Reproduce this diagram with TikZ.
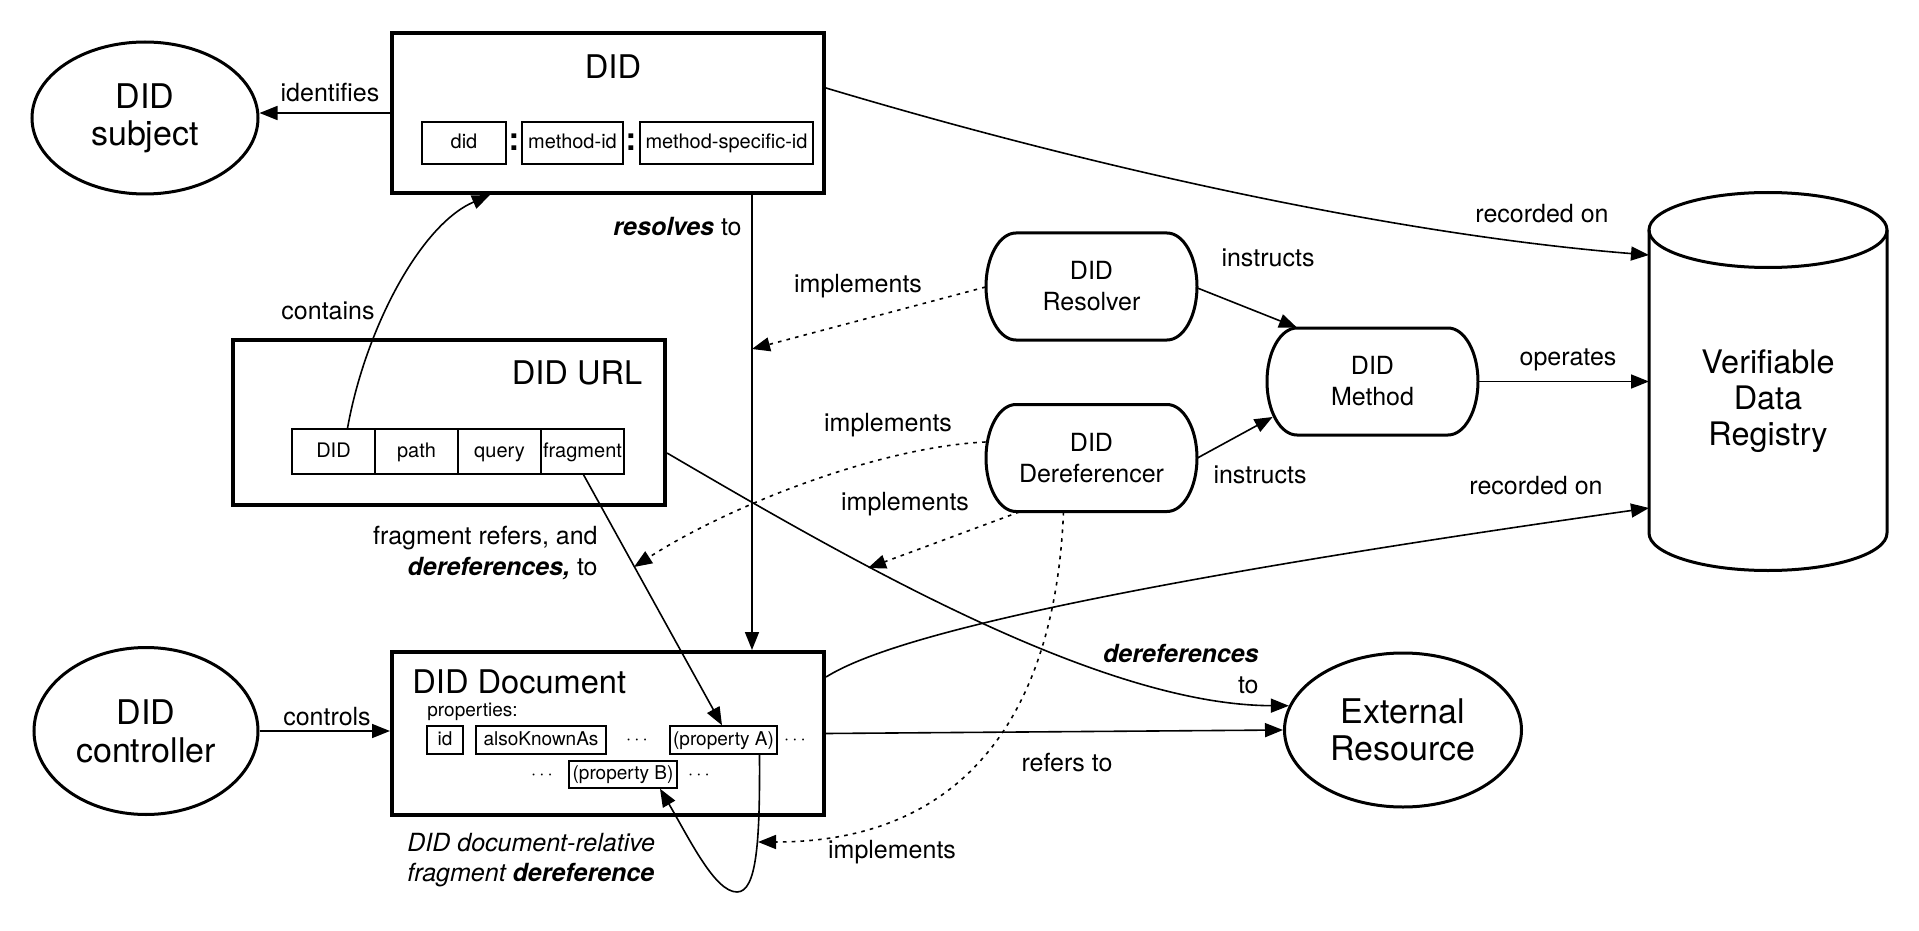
\documentclass[tikz,border=0pt]{standalone}
\usepackage{fontspec}
\setmainfont{TeX Gyre Heros}
\usetikzlibrary{shapes.geometric,arrows.meta,calc}
\newcommand\fs[2]{\fontsize{#1}{#2}\selectfont}
\newcommand\pillout[1]{\draw[pillline,shift={(#1.center)}] (-75.5,-53.5) -- (75.5,-53.5) .. controls (92.1,-53.5) and (105.5,-29.5) .. (105.5,0) .. controls (105.5,29.5) and (92.1,53.5) .. (75.5,53.5) -- (-75.5,53.5) .. controls (-92.1,53.5) and (-105.5,29.5) .. (-105.5,0) .. controls (-105.5,-29.5) and (-92.1,-53.5) .. (-75.5,-53.5) -- cycle;}
\begin{document}
\begin{tikzpicture}[x=0.5pt,y=-0.5pt,
  bigbox/.style={draw,line width=2pt,inner sep=0pt},
  part/.style={draw,line width=0.7pt,inner sep=0pt,font=\fs{10}{12},text height=7.5pt,text depth=2pt},
  prop/.style={draw,line width=0.7pt,inner sep=0pt,font=\fs{9.5}{11},text height=7pt,text depth=2pt},
  ell/.style={ellipse,draw,line width=1.5pt,inner sep=0pt,align=center,font=\fs{17}{18.5}},
  pilltext/.style={inner sep=0pt,minimum width=105.5pt,minimum height=53.5pt,align=center,font=\fs{12.5}{15.5}},
  pillline/.style={line width=1.5pt},
  title/.style={inner sep=0pt,font=\fs{16.3}{18}},
  lbl/.style={inner sep=0pt,font=\fs{12.5}{15.5}},
  dots/.style={inner sep=0pt,font=\fs{9.5}{11}},
  colon/.style={inner sep=0pt,font=\fs{16}{16}\bfseries},
  conn/.style={line width=0.8pt,-{Triangle[length=9pt,width=7pt]}},
  dotconn/.style={conn,dash pattern=on 1.8pt off 2.6pt},
]
\fill[white] (0,0) rectangle (1919,931);
\useasboundingbox (0,0) rectangle (1919,931);

% DID box
\node[bigbox,minimum width=216pt,minimum height=80pt] (did) at (608,113) {};
\node[title] (didT) at (613,67) {DID};
\node[part,minimum width=42pt,minimum height=21pt] (p1) at (464,143) {did};
\node[colon] (c1) at (514,142) {:};
\node[part,minimum width=50.5pt,minimum height=21pt] (p2) at (572.5,143) {method-id};
\node[colon] (c2) at (631,142) {:};
\node[part,minimum width=86.5pt,minimum height=21pt] (p3) at (726.5,143) {method-specific-id};

% DID URL box
\node[bigbox,minimum width=216pt,minimum height=82.5pt] (url) at (449,422.5) {};
\node[title] (urlT) at (577,373) {DID URL};
\node[part,minimum width=41.5pt,minimum height=22.5pt] (uDID) at (333.5,451.5) {DID};
\node[part,minimum width=41.5pt,minimum height=22.5pt] (uPath) at (416.5,451.5) {path};
\node[part,minimum width=41.5pt,minimum height=22.5pt] (uQuery) at (499.5,451.5) {query};
\node[part,minimum width=41.5pt,minimum height=22.5pt] (uFrag) at (582.5,451.5) {fragment};

% DID Document box
\node[bigbox,minimum width=216pt,minimum height=81.5pt] (doc) at (608,733.5) {};
\node[title,anchor=west] (docT) at (412,682) {DID Document};
\node[inner sep=0pt,anchor=west,font=\fs{9.5}{11}] (props) at (427,712) {properties:};
\node[prop,minimum width=18pt,minimum height=14pt] (pid) at (445,740) {id};
\node[prop,minimum width=65pt,minimum height=14pt] (paka) at (541,740) {alsoKnownAs};
\node[dots] (d1) at (637,740) {$\cdots$};
\node[prop,minimum width=53.5pt,minimum height=14pt] (pA) at (723.5,740) {(property A)};
\node[dots] (d2) at (795,740) {$\cdots$};
\node[dots] (d3) at (542,775) {$\cdots$};
\node[prop,minimum width=54pt,minimum height=13.5pt] (pB) at (623,774.5) {(property B)};
\node[dots] (d4) at (699,775) {$\cdots$};

% ellipses
\node[ell,minimum width=113pt,minimum height=76pt] (subj) at (145,118) {DID\\subject};
\node[ell,minimum width=112pt,minimum height=83.5pt,font=\fs{17}{19}] (ctrl) at (146,731) {DID\\controller};
\node[ell,minimum width=118.5pt,minimum height=77pt] (ext) at (1403,730) {External\\Resource};

% pills
\node[pilltext] (res) at (1091.5,286.5) {DID\\Resolver};
\node[pilltext] (deref) at (1091.5,458) {DID\\Dereferencer};
\node[pilltext] (meth) at (1372.5,381.5) {DID\\Method};
\pillout{res}
\pillout{deref}
\pillout{meth}

% cylinder
\draw[line width=1.5pt] (1649,230) -- (1649,533) .. controls (1649,553.7) and (1702.3,570.5) .. (1768,570.5) .. controls (1833.7,570.5) and (1887,553.7) .. (1887,533) -- (1887,230);
\draw[line width=1.5pt] (1649,230) .. controls (1649,209.3) and (1702.3,192.5) .. (1768,192.5) .. controls (1833.7,192.5) and (1887,209.3) .. (1887,230) .. controls (1887,250.7) and (1833.7,267.5) .. (1768,267.5) .. controls (1702.3,267.5) and (1649,250.7) .. (1649,230) -- cycle;
\node[inner sep=0pt,align=center,font=\fs{16.2}{18}] (vdr) at (1768,401) {Verifiable\\Data\\Registry};

% free ends
\coordinate (vIn1) at (1649,255);
\coordinate (vIn2) at (1649,381.5);
\coordinate (vIn3) at (1649,508);
\coordinate (onRes) at (752,349);
\coordinate (onFrag) at (634,567);
\coordinate (onDeref) at (868,568);
\coordinate (onLoop) at (758,842);

% connectors
\draw[conn] (did.west) -- (did.west -| subj.east);
\node[lbl] (lIdent) at (330,93) {identifies};

\draw[conn] ([xshift=7pt]uDID.north) .. controls (365,330) and (420,225) .. ([xshift=-59pt]did.south);
\node[lbl] (lCont) at (328,311) {contains};

\draw[conn] ([xshift=72pt]did.south) -- ([xshift=72pt]doc.north);
\node[lbl,anchor=east] (lRes) at (742,227) {\textbf{\textit{resolves}} to};

\draw[dotconn] ([yshift=-0.25pt]res.west) -- (onRes);
\node[lbl] (lImp1) at (858,286) {implements};

\draw[dotconn] ([yshift=8pt]deref.west) .. controls (880,447) and (730,505) .. (onFrag);
\node[lbl] (lImp2) at (888,425) {implements};

\draw[dotconn] ([xshift=-36pt]deref.south) -- (onDeref);
\node[lbl] (lImp3) at (905,504) {implements};

\draw[dotconn] ([xshift=-14pt]deref.south) .. controls (1055,720) and (960,842) .. (onLoop);
\node[lbl] (lImp4) at (892,852) {implements};

\draw[conn] ([xshift=0.5pt]uFrag.south) -- ([xshift=-0.75pt]pA.north);
\node[lbl,anchor=east,align=right] (lFrag) at (598,553) {fragment refers, and\\\textbf{\textit{dereferences,}} to};

\draw[conn] ([xshift=18pt]pA.south) .. controls (760,840) and (757,892) .. (737,892) .. controls (715,892) and (690,840) .. ([xshift=18.5pt]pB.south);
\node[lbl,anchor=west,align=left,font=\fs{12.5}{15}\itshape] (lLoop) at (407,860) {DID document-relative\\fragment \textbf{dereference}};

\draw[conn] (ctrl.east) -- (ctrl.east -| doc.west);
\node[lbl] (lCtrl) at (327,717) {controls};

\draw[conn] (doc.east) -- (ext.west);
\node[lbl] (lRef) at (1067,763) {refers to};

\draw[conn] ([yshift=-15.25pt]url.east) .. controls (850,560) and (1100,705) .. (ext.168);
\node[lbl,anchor=east,align=right] (lDer) at (1259,669) {\textbf{\textit{dereferences}}\\to};

\draw[conn] ([yshift=12.5pt]did.east) .. controls (1100,170) and (1400,235) .. (vIn1);
\node[lbl] (lRec1) at (1542,214) {recorded on};

\draw[conn] (meth.east) -- (vIn2);
\node[lbl] (lOp) at (1568,360) {operates};

\draw[conn] ([yshift=28.25pt]doc.east) .. controls (870,650) and (1000,600) .. (vIn3);
\node[lbl] (lRec2) at (1536,486) {recorded on};

\draw[conn] ([yshift=-0.75pt]res.east) -- ([xshift=-37.75pt]meth.north);
\node[lbl] (lIns1) at (1268,258) {instructs};

\draw[conn] (deref.east) -- ([xshift=3pt,yshift=-17.75pt]meth.west);
\node[lbl] (lIns2) at (1260,475) {instructs};
\end{tikzpicture}
\end{document}
